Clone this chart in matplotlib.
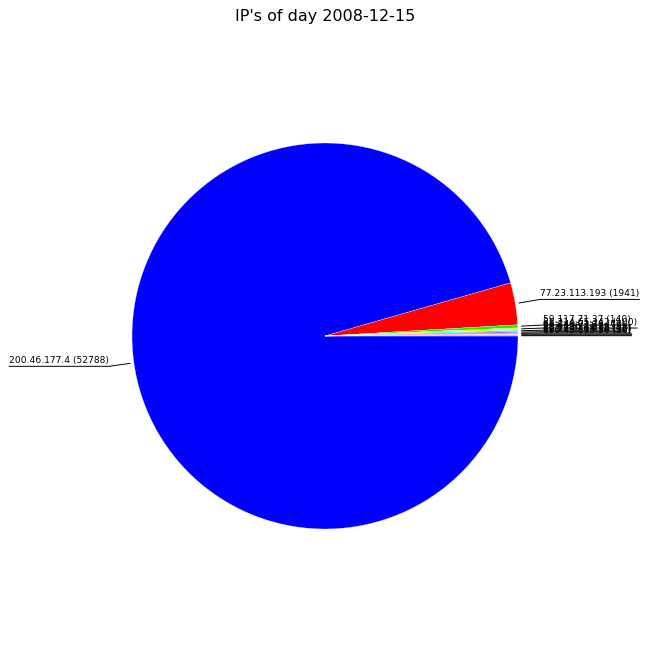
import numpy as np
import matplotlib
matplotlib.use("Agg")
import matplotlib.pyplot as plt

title = "IP's of day 2008-12-15"
ips = ["200.46.177.4", "77.23.113.193", "59.117.71.37", "85.214.65.142",
       "66.249.71.38", "213.190.41.7", "88.198.23.115", "201.240.18.96",
       "62.75.136.214", "190.42.113.56"]
hits = [52788, 1941, 140, 100, 70, 55, 45, 40, 35, 26]
colors = ["#0000ff", "#ff0000", "#00ff00", "#ffff00", "#00ffff", "#8040ff",
          "#ff00ff", "#ff80ff", "#ffffff", "#4040ff"]

fig = plt.figure(figsize=(6.5, 6.5), dpi=100)
ax = fig.add_axes([0, 0, 1, 1])
R = 193.0

wedges, _ = ax.pie(hits, colors=colors, startangle=0, counterclock=False,
                   radius=1.0, wedgeprops=dict(edgecolor="white", linewidth=0.2),
                   center=(0, 0), frame=False)
ax.set_xlim(-325 / R, 325 / R)
ax.set_ylim(-314 / R, 336 / R)
ax.set_aspect("equal")
ax.axis("off")

r_in, r_out = 1.02, 1.13
for w, ip, h in zip(wedges, ips, hits):
    ang = np.deg2rad((w.theta1 + w.theta2) / 2)
    c, s = np.cos(ang), np.sin(ang)
    x0, y0 = r_in * c, r_in * s
    x1, y1 = r_out * c, r_out * s
    label = f"{ip} ({h})"
    ha = "left" if c >= 0 else "right"
    t = ax.text(x1, y1 + 0.005, label, ha=ha, va="bottom", fontsize=6.6)
    fig.canvas.draw()
    bb = t.get_window_extent().transformed(ax.transData.inverted())
    xe = bb.x1 if c >= 0 else bb.x0
    ax.plot([x0, x1, xe], [y0, y1, y1], color="black", lw=0.7)

fig.text(0.5, 1 - 17 / 650, title, ha="center", va="center", fontsize=11.5)
fig.savefig("out.png", dpi=100)
